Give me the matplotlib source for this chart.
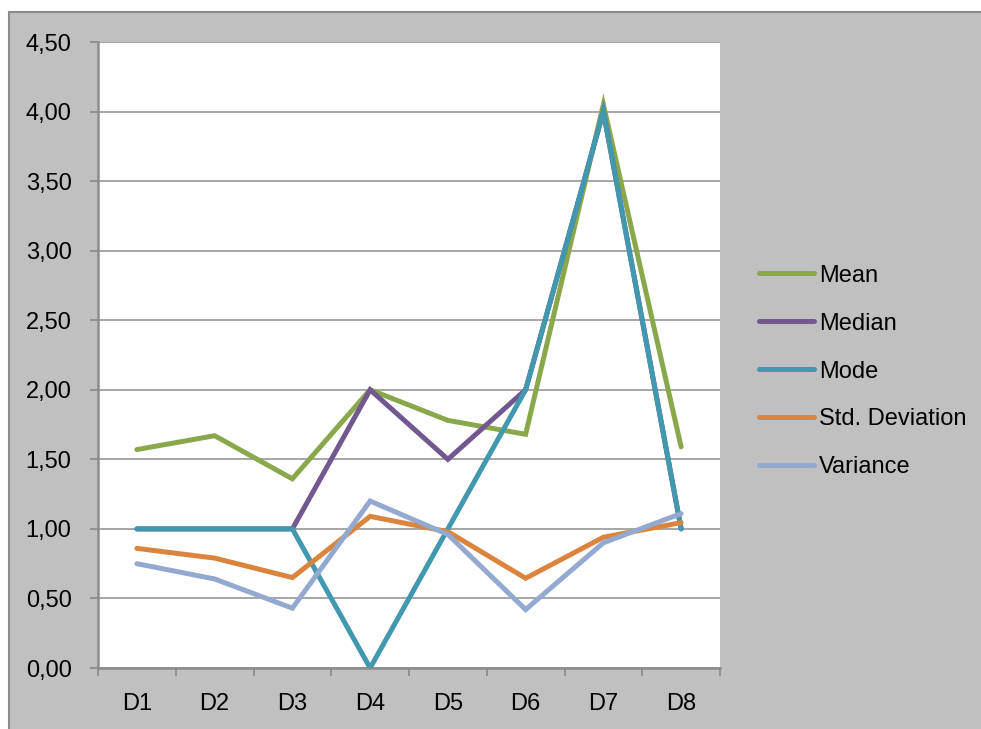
import matplotlib
matplotlib.use("Agg")
import matplotlib.pyplot as plt
from matplotlib.patches import Rectangle
from matplotlib.ticker import FixedLocator, FuncFormatter

categories = ["D1", "D2", "D3", "D4", "D5", "D6", "D7", "D8"]
mean = [1.57, 1.67, 1.36, 2.00, 1.78, 1.68, 4.05, 1.59]
median = [1.00, 1.00, 1.00, 2.00, 1.50, 2.00, 4.00, 1.00]
mode = [1.00, 1.00, 1.00, 0.00, 1.00, 2.00, 4.00, 1.00]
std_dev = [0.86, 0.79, 0.65, 1.09, 0.98, 0.645, 0.94, 1.045]
variance = [0.75, 0.64, 0.43, 1.20, 0.96, 0.42, 0.90, 1.11]

series = [
    ("Mean", mean, "#8AA84B"),
    ("Median", median, "#71588F"),
    ("Mode", mode, "#4198AF"),
    ("Std. Deviation", std_dev, "#DB843D"),
    ("Variance", variance, "#93A9CF"),
]

plt.rcParams["font.family"] = ["Liberation Sans", "DejaVu Sans"]
FS = 17

fig = plt.figure(figsize=(9.81, 7.29), dpi=100)
fig.patch.set_facecolor("white")

# grey chart-area panel with a thin border on the top and left
W, H = 981, 729
panel = Rectangle((9 / W, -0.02), 1.1, (H - 12) / H + 0.02,
                  transform=fig.transFigure, facecolor="#C0C0C0",
                  edgecolor="#8C8C8C", linewidth=1.5, zorder=-5)
fig.patches.append(panel)

ax = fig.add_axes([98 / W, 1 - 668 / H, (720 - 98) / W, (668 - 42) / H])
ax.set_zorder(1)
ax.set_facecolor("white")

x = list(range(1, len(categories) + 1))
for name, vals, col in series:
    ax.plot(x, vals, color=col, linewidth=3.6, label=name,
            solid_capstyle="round", solid_joinstyle="miter", zorder=3)

ax.set_xlim(0.5, len(categories) + 0.5)
ax.set_ylim(0, 4.5)

yt = [i * 0.5 for i in range(10)]
ax.yaxis.set_major_locator(FixedLocator(yt))
ax.yaxis.set_major_formatter(FuncFormatter(lambda v, p: f"{v:.2f}".replace(".", ",")))
ax.grid(axis="y", color="#A6A6A6", linewidth=1.4, zorder=1)
ax.set_axisbelow(True)

ax.xaxis.set_major_locator(FixedLocator([i + 0.5 for i in range(len(categories) + 1)]))
ax.xaxis.set_major_formatter(FuncFormatter(lambda v, p: ""))
ax.xaxis.set_minor_locator(FixedLocator(x))
ax.set_xticklabels(categories, minor=True)

for s in ("top", "right"):
    ax.spines[s].set_visible(False)
for s in ("left", "bottom"):
    ax.spines[s].set_color("#8C8C8C")
    ax.spines[s].set_linewidth(1.8)
    ax.spines[s].set_zorder(4)

ax.tick_params(axis="y", direction="out", length=6, width=1.3, color="#8C8C8C",
               labelsize=FS, pad=13)
ax.tick_params(axis="x", which="major", direction="out", length=6, width=1.3,
               color="#8C8C8C")
ax.tick_params(axis="x", which="minor", length=0, labelsize=FS, pad=18)

fig.legend(loc="center left", bbox_to_anchor=(759 / W, 1 - 371.5 / H),
           frameon=False, fontsize=FS, handlelength=2.35, handletextpad=0.2,
           labelspacing=1.1, borderpad=0, borderaxespad=0)

fig.savefig("out.png", dpi=100)
